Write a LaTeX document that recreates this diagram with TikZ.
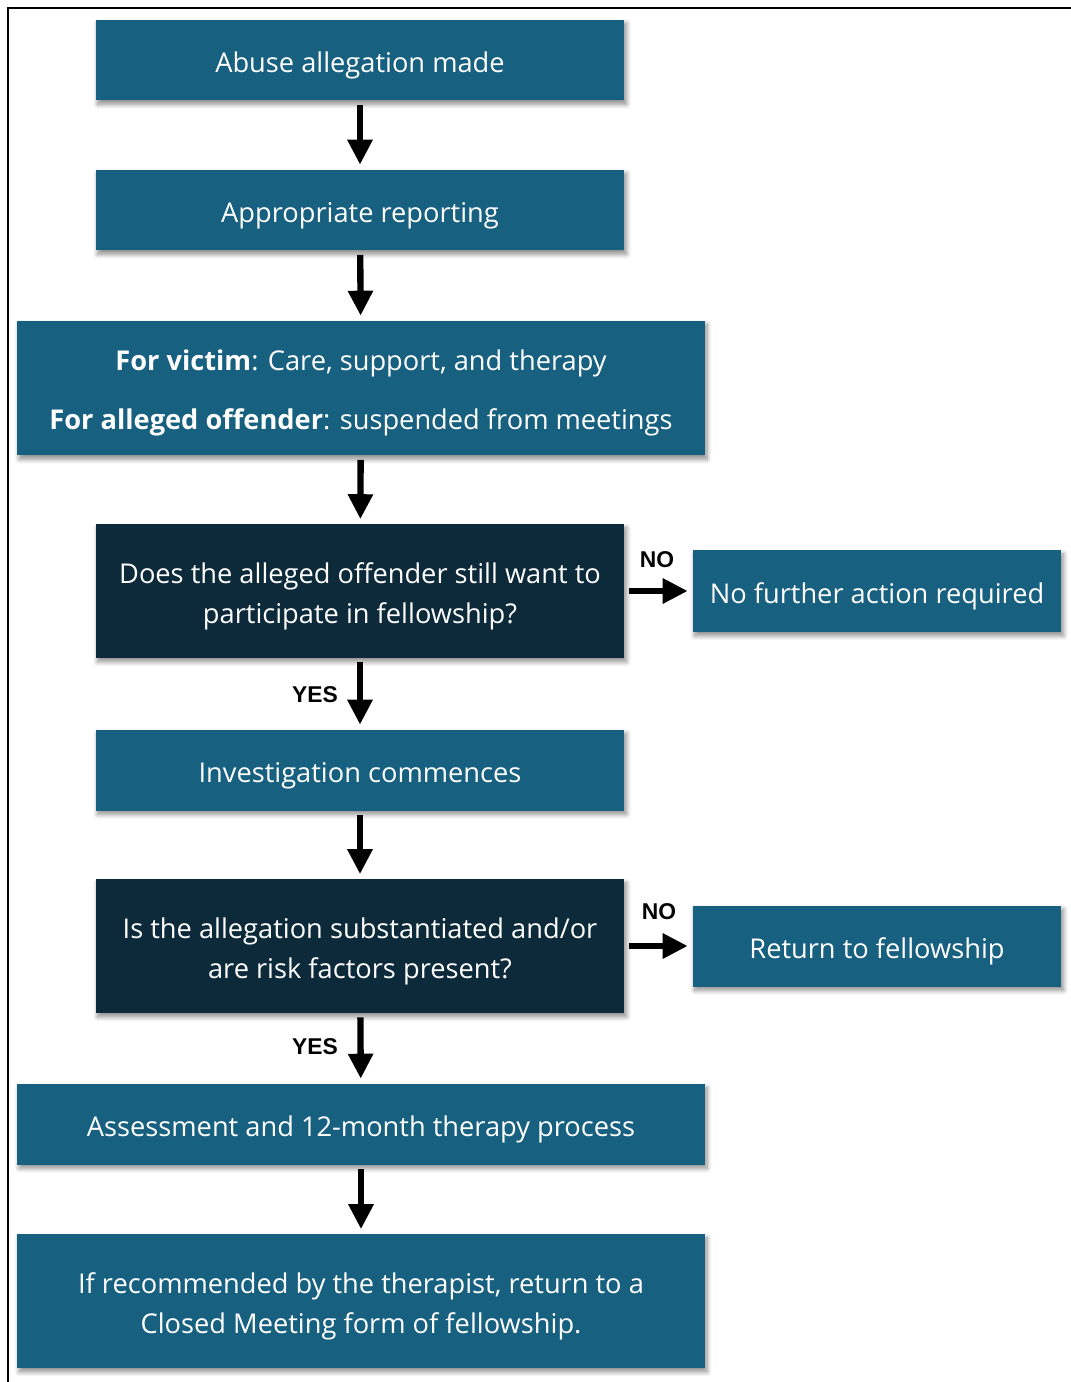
\documentclass[tikz,border=0pt]{standalone}
\usepackage{fontspec}
\setmainfont{Open Sans}
\newfontfamily\answerfont{Liberation Sans}
\usetikzlibrary{arrows.meta,shadows.blur}
\definecolor{boxblue}{RGB}{23,96,128}
\definecolor{boxdark}{RGB}{13,42,58}
\newcommand\toprise{\rule{0pt}{17.5pt}}
\tikzset{
	stepbox/.style={fill=boxblue, text=white, align=center, inner sep=0pt,
		font=\fontsize{15.5}{22.7}\selectfont,
		blur shadow={shadow xshift=1.2pt, shadow yshift=-2.2pt, shadow blur radius=2.6pt,
			shadow blur steps=8, shadow opacity=45}},
	askbox/.style={stepbox, fill=boxdark},
	flow/.style={line width=3.6pt, shorten <=0.08cm, shorten >=0.09cm,
		-{Triangle[length=14.2pt,width=13.6pt]}},
	answer/.style={font=\answerfont\bfseries\fontsize{13}{15}\selectfont}
}

\begin{document}
\begin{tikzpicture}[x=0.02cm, y=-0.02cm]
	%%%%% START %%%%%
	\useasboundingbox (0, 0) rectangle (1071, 1382);
	\draw[line width=1.1pt] (8, 1382) -- (8, 8) -- (1071, 8);
	
	\node[stepbox, minimum width=10.58cm, minimum height=1.62cm] (allegation) at (360, 60) {\toprise Abuse allegation made};
	\node[stepbox, minimum width=10.58cm, minimum height=1.62cm] (reporting) at (360, 210) {\toprise Appropriate reporting};
	\node[stepbox, minimum width=13.76cm, minimum height=2.7cm] (care) at (361, 388)
		{\toprise\textbf{For victim}: Care, support, and therapy\\[10.8pt]\textbf{For alleged offender}: suspended from meetings};
	
	\node[askbox, minimum width=10.58cm, minimum height=2.68cm] (participate) at (360, 591)
		{\toprise Does the alleged offender still want to\\participate in fellowship?};
	\node[stepbox, minimum width=7.38cm, minimum height=1.64cm] (nofurther) at (877, 591) {\toprise No further action required};
	
	\node[stepbox, minimum width=10.58cm, minimum height=1.62cm] (investigation) at (360, 770) {\toprise Investigation commences};
	
	\node[askbox, minimum width=10.58cm, minimum height=2.68cm] (substantiated) at (360, 946)
		{\toprise Is the allegation substantiated and/or\\are risk factors present?};
	\node[stepbox, minimum width=7.38cm, minimum height=1.62cm] (returnfs) at (877, 946) {\toprise Return to fellowship};
	
	\node[stepbox, minimum width=13.76cm, minimum height=1.62cm] (assessment) at (361, 1124) {\toprise Assessment and 12-month therapy process};
	\node[stepbox, minimum width=13.76cm, minimum height=2.68cm] (closed) at (361, 1301)
		{\toprise If recommended by the therapist, return to a\\Closed Meeting form of fellowship.};
	
	\draw[flow] (allegation) -- (reporting);
	\draw[flow] (reporting) -- (care);
	\draw[flow] (care) -- (participate);
	\draw[flow] (participate) -- (investigation);
	\draw[flow] (participate) -- (nofurther);
	\draw[flow] (investigation) -- (substantiated);
	\draw[flow] (substantiated) -- (returnfs);
	\draw[flow] (substantiated) -- (assessment);
	\draw[flow] (assessment) -- (closed);
	
	\node[answer] (no1) at (657, 560) {NO};
	\node[answer] (yes1) at (315, 695) {YES};
	\node[answer] (no2) at (659, 912) {NO};
	\node[answer] (yes2) at (315, 1047) {YES};
	%%%%% END %%%%%
\end{tikzpicture}
\end{document}
